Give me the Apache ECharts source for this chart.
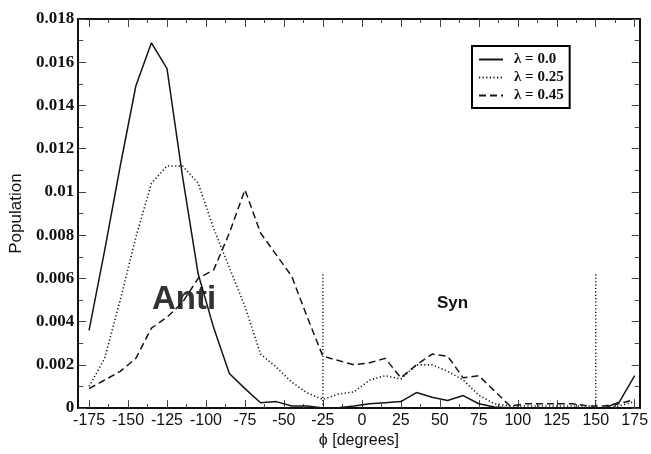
<!DOCTYPE html>
<html>
<head>
<meta charset="utf-8">
<script src="https://cdn.jsdelivr.net/npm/echarts@6/dist/echarts.min.js"></script>
<style>
  html, body { margin: 0; padding: 0; background: #fff; }
  #chart { width: 651px; height: 454px; }
</style>
</head>
<body>
<div id="chart"></div>
<script>
// Dihedral angle bins (degrees, bin centres)
const phi = [-175, -165, -155, -145, -135, -125, -115, -105, -95, -85, -75, -65,
             -55, -45, -35, -25, -15, -5, 5, 15, 25, 35, 45, 55,
             65, 75, 85, 95, 105, 115, 125, 135, 145, 155, 165, 175];

// Population per bin for each coupling value
const popLambda00 = [0.0036, 0.0073, 0.0112, 0.0149, 0.0169, 0.0157, 0.0107, 0.0062, 0.0037, 0.0016, 0.0009, 0.00025,
                     0.0003, 0.0001, 0.0001, 0.0, 0.00002, 0.0001, 0.0002, 0.00025, 0.0003, 0.00072, 0.0005, 0.00035,
                     0.00058, 0.0002, 0.00005, 0.00002, 0.0, 0.0, 0.00002, 0.0, 0.0, 0.0, 0.00027, 0.0015];
const popLambda025 = [0.0010, 0.0023, 0.0050, 0.0079, 0.0104, 0.0112, 0.0112, 0.0104, 0.0083, 0.0065, 0.0047, 0.0025,
                      0.0019, 0.0012, 0.0007, 0.0004, 0.00065, 0.00075, 0.0013, 0.0015, 0.00135, 0.0020, 0.0020, 0.0017,
                      0.0013, 0.0006, 0.0002, 0.0001, 0.0001, 0.0001, 0.0001, 0.0001, 0.0001, 0.0, 0.0001, 0.0003];
const popLambda045 = [0.0009, 0.0013, 0.0017, 0.0023, 0.0037, 0.0042, 0.0049, 0.0060, 0.0064, 0.0081, 0.0101, 0.0081,
                      0.0071, 0.0061, 0.0042, 0.0024, 0.0022, 0.0020, 0.0021, 0.0023, 0.0014, 0.0020, 0.0025, 0.0024,
                      0.0014, 0.0015, 0.0008, 0.0001, 0.0002, 0.0002, 0.0002, 0.0002, 0.0001, 0.0001, 0.0002, 0.0004];

const seriesNames = ['\u03bb = 0.0', '\u03bb = 0.25', '\u03bb = 0.45'];

// Axis tick positions
const xTicks = [-175, -150, -125, -100, -75, -50, -25, 0, 25, 50, 75, 100, 125, 150, 175];
const xMinorTicks = [-162.5, -137.5, -112.5, -87.5, -62.5, -37.5, -12.5, 12.5, 37.5, 62.5, 87.5, 112.5, 137.5, 162.5];

// Anti / Syn region boundaries
const regionBounds = [-25, 150];
const boundaryTop = 0.0063;

const ink = '#151515';
const xMin = -182, xMax = 178.2;

function pairs(vals) { return phi.map((p, i) => [p, vals[i]]); }

function lineSeries(name, vals, type) {
  return {
    name: name,
    type: 'line',
    data: pairs(vals),
    symbol: 'none',
    silent: true,
    animation: false,
    color: ink,
    itemStyle: { color: ink },
    lineStyle: { color: ink, width: type === 'dotted' ? 1.6 : 1.5, type: type === 'dotted' ? [1.2, 2.4] : type }
  };
}

const boundarySeries = regionBounds.map(b => ({
  type: 'line',
  data: [[b, 0], [b, boundaryTop]],
  symbol: 'none',
  silent: true,
  animation: false,
  lineStyle: { color: ink, width: 1.4, type: [1.2, 2.2] }
}));

const frameLine = { show: true, onZero: false, lineStyle: { color: '#111', width: 2 } };

function xAxisDef(position, ticks, len, withLabels) {
  const ax = {
    type: 'value', position: position, min: xMin, max: xMax,
    axisLine: frameLine,
    axisTick: { show: true, inside: true, length: len, customValues: ticks, lineStyle: { color: '#444', width: 1 } },
    axisLabel: { show: false },
    splitLine: { show: false }
  };
  if (withLabels) {
    ax.axisLabel = { show: true, customValues: xTicks, fontFamily: 'Liberation Sans', fontSize: 16,
                     color: '#111', margin: 4 };
    ax.name = '\u03d5 [degrees]';
    ax.nameLocation = 'middle';
    ax.nameGap = 22;
    ax.nameTextStyle = { fontFamily: 'Liberation Sans', fontSize: 16, color: '#111' };
  }
  return ax;
}

function yAxisDef(position, withLabels) {
  const ax = {
    type: 'value', position: position, min: 0, max: 0.018, interval: 0.002,
    axisLine: frameLine,
    axisTick: { show: true, inside: true, length: 8, lineStyle: { color: '#444', width: 1 } },
    minorTick: { show: true, splitNumber: 2, length: 5, lineStyle: { color: '#444', width: 1 } },
    axisLabel: { show: false },
    splitLine: { show: false },
    minorSplitLine: { show: false }
  };
  if (withLabels) {
    ax.axisLabel = { show: true, fontFamily: 'Liberation Serif', fontWeight: 'bold', fontSize: 17,
                     color: '#111', margin: 4 };
    ax.name = 'Population';
    ax.nameLocation = 'middle';
    ax.nameGap = 42;
    ax.nameTextStyle = { fontFamily: 'Liberation Sans', fontSize: 17, color: '#111' };
  }
  return ax;
}

const chart = echarts.init(document.getElementById('chart'), null, { renderer: 'canvas' });
chart.setOption({
  animation: false,
  backgroundColor: '#fff',
  grid: { left: 73, right: 10, top: 19, bottom: 38 },
  xAxis: [
    xAxisDef('bottom', xTicks, 8, true),
    xAxisDef('bottom', xMinorTicks, 4, false),
    xAxisDef('top', xTicks, 8, false),
    xAxisDef('top', xMinorTicks, 4, false)
  ],
  yAxis: [yAxisDef('left', true), yAxisDef('right', false)],
  legend: {
    data: seriesNames,
    orient: 'vertical',
    left: 472, top: 46,
    padding: [6, 6, 5, 6],
    itemWidth: 24, itemHeight: 14, itemGap: 3,
    borderColor: '#000', borderWidth: 2,
    backgroundColor: '#fff',
    itemStyle: { opacity: 0, borderWidth: 0 },
    textStyle: { fontFamily: 'Liberation Serif', fontWeight: 'bold', fontSize: 15, color: '#111',
                 padding: [0, 0, 0, 6] }
  },
  graphic: [
    { type: 'text', left: 152, top: 283, silent: true,
      style: { text: 'Anti', font: 'bold 33px "Liberation Sans"', fill: '#333' } },
    { type: 'text', left: 437, top: 295, silent: true,
      style: { text: 'Syn', font: 'bold 17px "Liberation Sans"', fill: '#111' } }
  ],
  series: [
    lineSeries(seriesNames[0], popLambda00, 'solid'),
    lineSeries(seriesNames[1], popLambda025, 'dotted'),
    lineSeries(seriesNames[2], popLambda045, [7, 4])
  ].concat(boundarySeries)
});
</script>
</body>
</html>
